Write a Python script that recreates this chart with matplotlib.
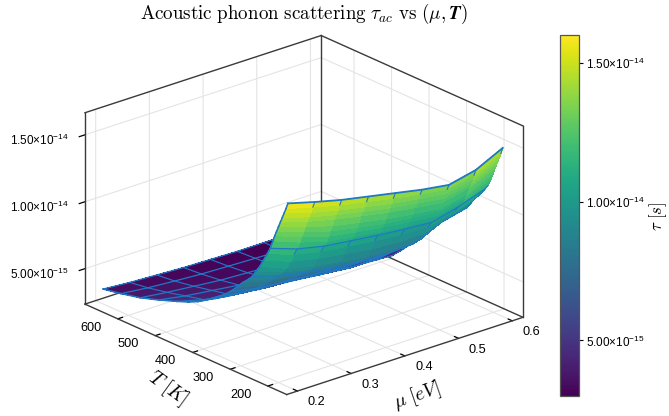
import numpy as np
import matplotlib
matplotlib.use("Agg")
import matplotlib.pyplot as plt
from matplotlib.cm import ScalarMappable
from matplotlib.colors import Normalize
from mpl_toolkits.mplot3d import proj3d

plt.rcParams["font.family"] = ["Liberation Sans", "DejaVu Sans"]

mu_vals = [0.2, 0.25, 0.3, 0.35, 0.4, 0.45, 0.5, 0.55, 0.6]
T_vals = [175, 180, 185, 190, 195, 200, 205, 210, 215, 222, 230, 240, 250, 260, 270, 282, 295,
          312, 330, 347, 365, 390, 415, 440, 470, 520, 569, 620, 668]
# tau in units of 1e-15 s, one row per temperature
tau_table = [
    [16.05, 15.5, 15.0, 14.6, 14.2, 13.8, 13.5, 13.96, 14.95],
    [15.6, 15.05, 14.55, 14.15, 13.75, 13.4, 13.1, 13.5, 14.45],
    [15.2, 14.6, 14.1, 13.7, 13.3, 13.0, 12.7, 13.1, 14.0],
    [14.8, 14.2, 13.7, 13.3, 12.9, 12.6, 12.3, 12.7, 13.6],
    [14.4, 13.8, 13.3, 12.9, 12.5, 12.2, 11.9, 12.35, 13.2],
    [14.0, 13.35, 12.75, 12.35, 11.95, 11.65, 11.4, 11.85, 12.75],
    [13.6, 12.9, 12.3, 11.9, 11.55, 11.3, 11.1, 11.5, 12.3],
    [13.2, 12.45, 11.85, 11.5, 11.2, 10.95, 10.75, 11.15, 11.95],
    [12.75, 12.0, 11.4, 11.1, 10.8, 10.6, 10.4, 10.85, 11.6],
    [12.1, 11.4, 10.95, 10.7, 10.45, 10.25, 10.1, 10.6, 11.3],
    [11.6, 10.9, 10.45, 10.2, 9.95, 9.75, 9.7, 10.25, 10.95],
    [11.0, 10.25, 9.8, 9.5, 9.2, 9.05, 9.1, 9.85, 10.55],
    [10.4, 9.6, 9.1, 8.8, 8.5, 8.4, 8.5, 9.5, 10.2],
    [9.9, 9.2, 8.75, 8.45, 8.2, 8.1, 8.2, 9.15, 9.75],
    [9.4, 8.8, 8.4, 8.1, 7.9, 7.8, 7.9, 8.8, 9.3],
    [9.0, 8.45, 8.1, 7.8, 7.65, 7.55, 7.65, 8.55, 9.0],
    [8.64, 8.1, 7.8, 7.55, 7.4, 7.3, 7.4, 8.3, 8.7],
    [8.05, 7.6, 7.35, 7.15, 7.0, 6.9, 7.0, 7.75, 8.2],
    [7.5, 7.1, 6.9, 6.75, 6.6, 6.55, 6.6, 7.2, 7.7],
    [7.05, 6.75, 6.55, 6.4, 6.3, 6.15, 6.15, 6.6, 7.25],
    [6.68, 6.4, 6.2, 6.1, 6.0, 5.8, 5.75, 6.0, 6.8],
    [6.15, 5.85, 5.65, 5.55, 5.5, 5.2, 5.1, 5.25, 5.8],
    [5.7, 5.4, 5.2, 5.1, 5.05, 4.7, 4.5, 4.6, 4.9],
    [5.35, 4.95, 4.7, 4.5, 4.4, 4.15, 3.95, 3.95, 4.05],
    [5.02, 4.5, 4.2, 3.95, 3.8, 3.6, 3.4, 3.3, 3.2],
    [4.5, 4.15, 3.9, 3.65, 3.55, 3.4, 3.25, 3.15, 3.1],
    [4.05, 3.8, 3.6, 3.4, 3.3, 3.2, 3.1, 3.05, 3.0],
    [3.72, 3.5, 3.35, 3.22, 3.15, 3.08, 3.03, 3.0, 3.0],
    [3.46, 3.3, 3.2, 3.1, 3.05, 3.0, 3.0, 3.0, 3.0],
]
wire_T = [175, 222, 270, 330, 365, 415, 470, 520, 569, 620, 668]
stub_T = [180, 230, 282]

mu_ticks = [0.2, 0.3, 0.4, 0.5, 0.6]
mu_ticklabels = ["0.2", "0.3", "0.4", "0.5", "0.6"]
T_ticks = [200, 300, 400, 500, 600]
T_ticklabels = ["200", "300", "400", "500", "600"]
z_ticks = [5e-15, 1e-14, 1.5e-14]
z_ticklabels = [r"5.00×10$^{\mathregular{-15}}$", r"1.00×10$^{\mathregular{-14}}$", r"1.50×10$^{\mathregular{-14}}$"]

mu = np.array(mu_vals)
T = np.array(T_vals, dtype=float)
tau = np.array(tau_table) * 1e-15

W, H = 669, 416
WIRE = "#1f78c4"
LINE = "#3a3a3a"
norm = Normalize(3e-15, 1.6e-14)

fig = plt.figure(figsize=(W / 100, H / 100), dpi=100)
S = 471.6
ax = fig.add_axes([61.8 / W, -41.2 / H, S / W, S / H], projection="3d", proj_type="ortho",
                  computed_zorder=False)
ax.patch.set_alpha(0)
ax.view_init(elev=22.5, azim=-130.5)
ax.set_box_aspect((1, 1, 2 / 3))
x0, x1 = 0.18, 0.62
y0, y1 = 149.5, 687.5
z0, z1 = 2.35e-15, 1.665e-14
ax.set_xlim(x0, x1)
ax.set_ylim(y0, y1)
ax.set_zlim(z0, z1)

for axis in (ax.xaxis, ax.yaxis, ax.zaxis):
    axis.pane.set_visible(False)
    axis.line.set_color((0, 0, 0, 0))
    axis._axinfo["grid"].update(color="#e4e4e4", linewidth=0.8)
    axis._axinfo["tick"].update(inward_factor=0.0, outward_factor=0.25)
    axis._axinfo["tick"]["linewidth"] = {True: 0.9, False: 0.5}
    axis._axinfo["tick"]["color"] = LINE
ax.zaxis._axinfo["tick"].update(inward_factor=0.3, outward_factor=0.0)

# cube outline, the front vertical edge and the two upper front edges are left out
edges = [
    ([x0, x0], [y1, y1], [z0, z1]), ([x1, x1], [y0, y0], [z0, z1]), ([x1, x1], [y1, y1], [z0, z1]),
    ([x0, x1], [y1, y1], [z1, z1]), ([x1, x1], [y0, y1], [z1, z1]),
    ([x0, x1], [y0, y0], [z0, z0]), ([x0, x0], [y0, y1], [z0, z0]),
    ([x0, x1], [y1, y1], [z0, z0]), ([x1, x1], [y0, y1], [z0, z0]),
]
for ex, ey, ez in edges:
    ax.plot(ex, ey, ez, color=LINE, lw=1.0, zorder=0)

# paint strips from the hot (far) side to the cold (near) side so the sheet hides what is behind it
order = 1
for i in range(len(T_vals) - 1, 0, -1):
    X, Y = np.meshgrid(mu, T[i - 1:i + 1])
    ax.plot_surface(X, Y, tau[i - 1:i + 1], cmap="viridis", norm=norm, rstride=1, cstride=1,
                    linewidth=0, antialiased=False, shade=False, zorder=order)
    if T_vals[i] in wire_T:
        ax.plot(mu, T[i] * np.ones(len(mu)), tau[i], color=WIRE, lw=0.9, zorder=order + 4.5)
    for j, m in enumerate(mu_vals):
        if T_vals[i] >= 295 or j == 0 or (j == 8 and T_vals[i] >= 222) or T_vals[i] in stub_T:
            lw = 1.1 if j == 0 else 0.8
            ax.plot([m, m], T[i - 1:i + 1], tau[i - 1:i + 1, j], color=WIRE, lw=lw, zorder=order + 2.5)
    order += 2
ax.plot(mu, T[0] * np.ones(len(mu)), tau[0], color=WIRE, lw=1.3, zorder=order + 5)

ax.set_xticks(mu_ticks)
ax.set_yticks(T_ticks)
ax.set_zticks(z_ticks)
ax.set_xticklabels([])
ax.set_yticklabels([])
ax.set_zticklabels([])


def label_at(px, py, pz, text, **kw):
    # mplot3d only pads tick labels away from the centre, so they are placed by hand beside the ticks
    sx, sy, _ = proj3d.proj_transform(px, py, pz, ax.get_proj())
    ax.text2D(sx, sy, text, transform=ax.transData, va="center", zorder=200, **kw)


for m, lab in zip(mu_ticks, mu_ticklabels):
    label_at(m, 98.9, 2.14e-15, lab, fontsize=9.2, ha="center")
for t, lab in zip(T_ticks, T_ticklabels):
    label_at(0.1297, t, z0, lab, fontsize=9.2, ha="center")
for z, lab in zip(z_ticks, z_ticklabels):
    label_at(0.15, y1, z, lab, fontsize=8.5, ha="right")

fig.text(304 / W, 1 - 14 / H, r"$\mathrm{Acoustic\ phonon\ scattering}\ \tau_{ac}\ \mathrm{vs}\ (\mu,\boldsymbol{T})$",
         math_fontfamily="cm", fontsize=13.7, ha="center", va="center")
fig.text(168 / W, 1 - 388 / H, r"$T\ [K]$", math_fontfamily="cm", fontsize=14, rotation=-36, ha="center", va="center")
fig.text(417 / W, 1 - 396 / H, r"$\mu\ [eV]$", math_fontfamily="cm", fontsize=14, rotation=19, ha="center", va="center")

cax = fig.add_axes([560 / W, 1 - 396 / H, 19 / W, 361 / H])
cb = fig.colorbar(ScalarMappable(norm=norm, cmap="viridis"), cax=cax)
cb.set_ticks(z_ticks)
cb.set_ticklabels(z_ticklabels, fontsize=8.5)
cb.ax.tick_params(length=3, width=0.8, pad=2)
cb.outline.set_edgecolor("#555555")
cb.outline.set_linewidth(0.9)
fig.text(658 / W, 1 - 216 / H, r"$\tau\ [s]$", math_fontfamily="cm", fontsize=12, rotation=90, ha="center", va="center")

fig.savefig("out.png", dpi=100)
